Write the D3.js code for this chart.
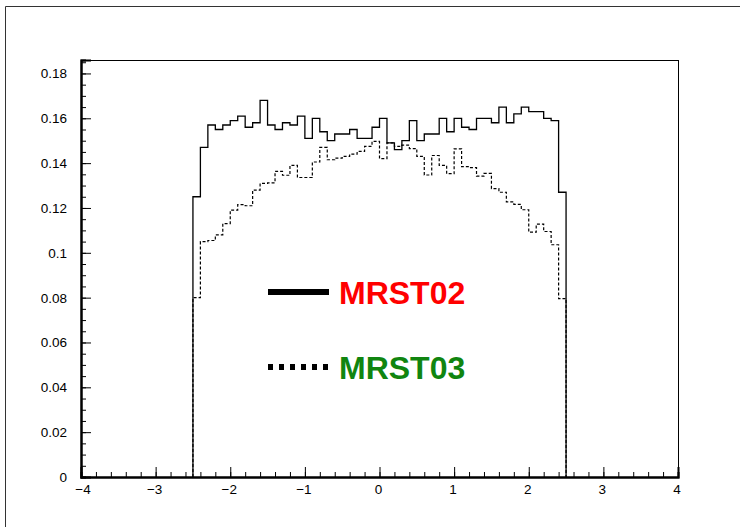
<!DOCTYPE html>
<html>
<head>
<meta charset="utf-8">
<script src="https://cdn.jsdelivr.net/npm/d3@7"></script>
<style>
  html, body { margin: 0; padding: 0; background: #fff; }
  svg { display: block; font-family: "Liberation Sans", Arial, Helvetica, sans-serif; }
</style>
</head>
<body>
<svg id="chart" width="740" height="527"></svg>
<script>
/* Two step histograms (MRST02 vs MRST03), 50 bins of width 0.1 on [-2.5, 2.5]. */
const binRange = [-2.5, 2.5];

const mrst02 = [
  0.125, 0.147, 0.157, 0.155, 0.157, 0.159, 0.161, 0.156, 0.158, 0.168,
  0.157, 0.155, 0.158, 0.157, 0.161, 0.151, 0.160, 0.154, 0.150, 0.153,
  0.153, 0.155, 0.151, 0.151, 0.156, 0.160, 0.149, 0.146, 0.150, 0.159,
  0.150, 0.153, 0.153, 0.160, 0.154, 0.160, 0.156, 0.155, 0.160, 0.160,
  0.158, 0.165, 0.158, 0.162, 0.165, 0.163, 0.163, 0.160, 0.159, 0.127
];

const mrst03 = [
  0.080, 0.105, 0.1055, 0.108, 0.113, 0.119, 0.1215, 0.121, 0.128, 0.131,
  0.1312, 0.1363, 0.1346, 0.139, 0.1336, 0.1336, 0.1405, 0.147, 0.1415, 0.1422,
  0.143, 0.144, 0.1452, 0.1475, 0.1497, 0.142, 0.149, 0.1475, 0.148, 0.1465,
  0.143, 0.1347, 0.1434, 0.139, 0.1353, 0.1464, 0.1384, 0.138, 0.1342, 0.1354,
  0.1286, 0.127, 0.1227, 0.1216, 0.1192, 0.1092, 0.1128, 0.1095, 0.1036, 0.0796
];

const xTicks = [-4, -3, -2, -1, 0, 1, 2, 3, 4];
const yTicks = [0, 0.02, 0.04, 0.06, 0.08, 0.1, 0.12, 0.14, 0.16, 0.18];
const yTickLabels = ["0", "0.02", "0.04", "0.06", "0.08", "0.1", "0.12", "0.14", "0.16", "0.18"];

const legendItems = [
  { label: "MRST02", color: "#ff0000", dash: null },
  { label: "MRST03", color: "#108510", dash: "5,6" }
];

const svg = d3.select("#chart");

// outer pad frame
svg.append("path")
  .attr("d", "M5.5,527 V6.5 H740")
  .attr("fill", "none").attr("stroke", "#333").attr("stroke-width", 1);

const plot = { left: 81, right: 678, top: 60, bottom: 477 };
const x = d3.scaleLinear().domain([-4, 4]).range([plot.left, plot.right]);
const y = d3.scaleLinear().domain([0, 0.186]).range([plot.bottom, plot.top]);

// frame
svg.append("rect")
  .attr("x", plot.left + 0.5).attr("y", plot.top + 0.5)
  .attr("width", plot.right - plot.left).attr("height", plot.bottom - plot.top)
  .attr("fill", "none").attr("stroke", "#000").attr("stroke-width", 1);

// axes (ROOT style: ticks inside the frame)
const yAxis = d3.axisRight(y).tickValues(yTicks).tickSize(10).tickFormat("");
const yMinor = d3.axisRight(y).tickValues(d3.range(0, 0.1851, 0.005)).tickSize(5).tickFormat("");
const xAxis = d3.axisTop(x).tickValues(xTicks).tickSize(10).tickFormat("");
const xMinor = d3.axisTop(x).tickValues(d3.range(-4, 4.001, 0.2)).tickSize(5).tickFormat("");

function styleAxis(g) {
  g.selectAll("path.domain").attr("stroke", "#000").attr("stroke-width", 2);
  g.selectAll(".tick line").attr("stroke", "#000").attr("stroke-width", 1);
}
svg.append("g").attr("transform", `translate(${plot.left},0)`).call(yMinor).call(styleAxis);
svg.append("g").attr("transform", `translate(${plot.left},0)`).call(yAxis).call(styleAxis);
svg.append("g").attr("transform", `translate(0,${plot.bottom})`).call(xMinor).call(styleAxis);
svg.append("g").attr("transform", `translate(0,${plot.bottom})`).call(xAxis).call(styleAxis);

// tick labels
svg.append("g").selectAll("text").data(yTicks).join("text")
  .attr("x", 67).attr("y", (d) => y(d) + 5)
  .attr("text-anchor", "end").attr("font-size", 13.5).attr("fill", "#000")
  .text((d, i) => yTickLabels[i]);

svg.append("g").selectAll("text").data(xTicks).join("text")
  .attr("x", (d) => x(d) + (d === -4 ? 2 : -1)).attr("y", 494)
  .attr("text-anchor", "middle").attr("font-size", 13.5).attr("fill", "#000")
  .text((d) => (d < 0 ? "\u2212" + Math.abs(d) : String(d)));

// histograms
function histPoints(values) {
  const w = (binRange[1] - binRange[0]) / values.length;
  const pts = [[binRange[0], 0]];
  values.forEach((v, i) => pts.push([binRange[0] + i * w, v]));
  pts.push([binRange[1], values[values.length - 1]]);
  pts.push([binRange[1], 0]);
  return pts;
}
const line = d3.line().x((d) => x(d[0])).y((d) => y(d[1])).curve(d3.curveStepAfter);

svg.append("path").attr("d", line(histPoints(mrst02)))
  .attr("fill", "none").attr("stroke", "#000").attr("stroke-width", 1.3);
svg.append("path").attr("d", line(histPoints(mrst03)))
  .attr("fill", "none").attr("stroke", "#000").attr("stroke-width", 1.2)
  .attr("stroke-dasharray", "3,2");

// legend
const lg = svg.append("g");
legendItems.forEach((d, i) => {
  const cy = 292 + i * 75;
  lg.append("line")
    .attr("x1", 268).attr("x2", 329).attr("y1", cy).attr("y2", cy)
    .attr("stroke", "#000").attr("stroke-width", 6)
    .attr("stroke-dasharray", d.dash);
  lg.append("text")
    .attr("x", 339).attr("y", cy + 11.5)
    .attr("font-size", 32).attr("font-weight", "bold").attr("fill", d.color)
    .text(d.label);
});
</script>
</body>
</html>
